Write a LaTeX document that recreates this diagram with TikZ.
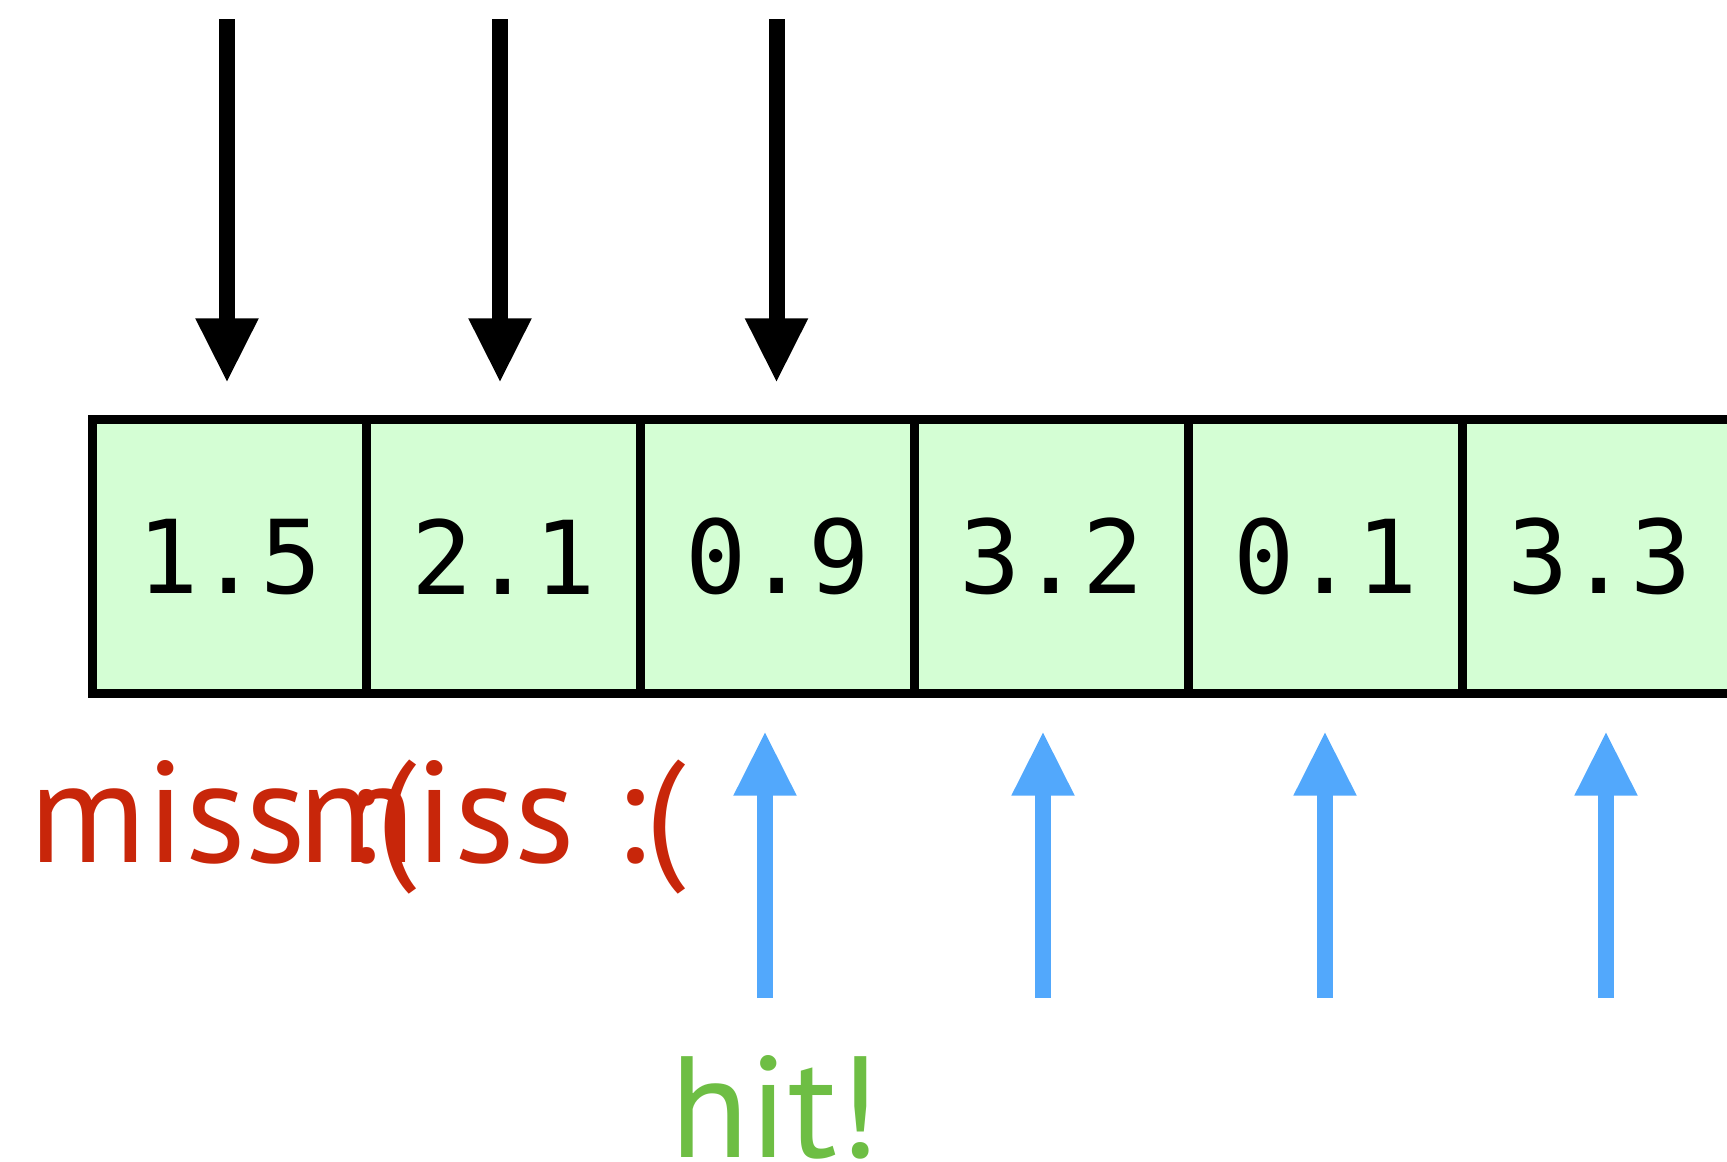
\documentclass[tikz,border=0pt]{standalone}
\usepackage{fontspec}
\setmainfont{PT Sans}
\newfontfamily\chiffres{DejaVu Sans Mono}
\usetikzlibrary{arrows.meta,positioning}
\definecolor{fondcase}{HTML}{D4FED4}
\definecolor{bleuhit}{HTML}{52A8FC}
\definecolor{rougemiss}{HTML}{C8260A}
\definecolor{verthit}{HTML}{6EBE44}

\begin{document}
\begin{tikzpicture}[x=0.1mm, y=-0.1mm, node distance=0pt]
\tikzset{case/.style={draw, line width=2.5pt, fill=fondcase, minimum width=27.4mm, minimum height=27.4mm, outer sep=0pt, inner sep=0pt, font=\chiffres\fontsize{29}{29}\selectfont}}
\tikzset{descente/.style={line width=4.55pt, -{Triangle[length=18.4pt, width=16.6pt]}}}
\tikzset{montee/.style={descente, draw=bleuhit}}
\tikzset{mot/.style={anchor=base west, inner sep=0pt, font=\fontsize{41}{41}\selectfont}}
\useasboundingbox (0,0) rectangle (1727,1162);
\clip (0,0) rectangle (1727,1162);
\node[case] (C1) at (229.5,556.75) {1.5};
\node[case, right=of C1] (C2) {2.1};
\node[case, right=of C2] (C3) {0.9};
\node[case, right=of C3] (C4) {3.2};
\node[case, right=of C4] (C5) {0.1};
\node[case, right=of C5] (C6) {3.3};
\coordinate (H1) at (227,19);
\coordinate (B1) at (227,383);
\coordinate (H2) at (500,19);
\coordinate (B2) at (500,383);
\coordinate (H3) at (776.5,19);
\coordinate (B3) at (776.5,383);
\draw[descente] (H1) -- (B1);
\draw[descente] (H2) -- (B2);
\draw[descente] (H3) -- (B3);
\coordinate (P1) at (765,998);
\coordinate (T1) at (765,731);
\coordinate (P2) at (1043,998);
\coordinate (T2) at (1043,731);
\coordinate (P3) at (1325,998);
\coordinate (T3) at (1325,731);
\coordinate (P4) at (1606,998);
\coordinate (T4) at (1606,731);
\draw[montee] (P1) -- (T1);
\draw[montee] (P2) -- (T2);
\draw[montee] (P3) -- (T3);
\draw[montee] (P4) -- (T4);
\node[mot, text=rougemiss] (M1) at (29,862) {miss :(};
\node[mot, text=rougemiss] (M2) at (298,862) {miss :(};
\node[mot, text=verthit] (R) at (670,1157) {hit!};
\end{tikzpicture}
\end{document}
